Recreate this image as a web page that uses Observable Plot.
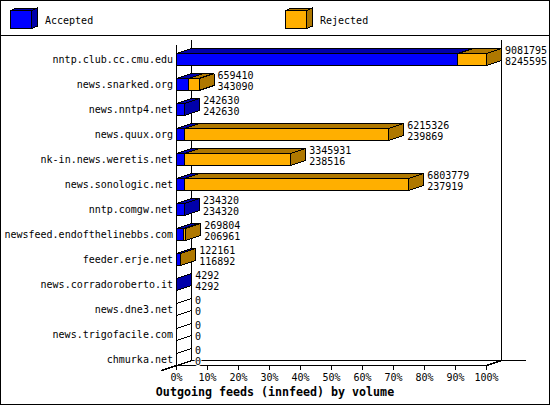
<!DOCTYPE html>
<html><head><meta charset="utf-8">
<style>html,body{margin:0;padding:0;background:#fff}svg{display:block}</style>
<script src="https://cdn.jsdelivr.net/npm/d3@7"></script>
<script src="https://cdn.jsdelivr.net/npm/@observablehq/plot@0.6"></script>
</head><body><div id="chart"></div>
<script>
const feeds = ["nntp.club.cc.cmu.edu","news.snarked.org","news.nntp4.net","news.quux.org","nk-in.news.weretis.net","news.sonologic.net","nntp.comgw.net","newsfeed.endofthelinebbs.com","feeder.erje.net","news.corradoroberto.it","news.dne3.net","news.trigofacile.com","chmurka.net"];
const totals = [9081795,659410,242630,6215326,3345931,6803779,234320,269804,122161,4292,0,0,0];
const accepted = [8245595,343090,242630,239869,238516,237919,234320,206961,116892,4292,0,0,0];
const seriesNames = ["Accepted","Rejected"];
const tickValues = [0,10,20,30,40,50,60,70,80,90,100];
const title = "Outgoing feeds (innfeed) by volume";

const BLUE="#0000ff",DBLUE="#0000aa",ORANGE="#ffaf00",DORANGE="#af7800";
const mono="'DejaVu Sans Mono',monospace";
const max=d3.max(totals);
const pct=v=>v/max*100;
// scale helpers: bar depth and half height expressed in data units
const xPx=3.1, yPx=25, x0=176, y0=59;
const invX=p=>(p-x0)/xPx, invY=p=>(p-y0)/yPx;
const depthX=15/xPx, depthY=5/yPx, half=6/yPx;

const faces=[];
function poly(group,id,pts){pts.concat([pts[0]]).forEach(([x,y])=>faces.push({group,id,x,y}));}
feeds.forEach((f,i)=>{
  const a=pct(accepted[i]), t=pct(totals[i]);
  const top=i-half, bot=i+half;
  const up=(l,r)=>[[l,top],[l+depthX,top-depthY],[r+depthX,top-depthY],[r,top]];
  poly(t===0?"none":(totals[i]>accepted[i]?"dorange":"dblue"),`s${i}`,[[t,top],[t+depthX,top-depthY],[t+depthX,bot-depthY],[t,bot]]);
  poly("dblue",`tb${i}`,up(0,a));
  if(totals[i]>accepted[i]) poly("dorange",`to${i}`,up(a,t));
  if(t>0){
    poly("orange",`fo${i}`,[[a,top],[t,top],[t,bot],[a,bot]]);
    poly("blue",`fb${i}`,[[0,top],[a,top],[a,bot],[0,bot]]);
  }
});
// legend swatches
function swatch(px,front,dark,n){
  const l=invX(px),r=invX(px+21),t=invY(10),b=invY(28),dx=6/xPx,dy=2.5/yPx;
  poly(dark,`ls${n}`,[[r,t],[r+dx,t-dy],[r+dx,b-dy],[r,b]]);
  poly(dark,`lt${n}`,[[l,t],[l+dx,t-dy],[r+dx,t-dy],[r,t]]);
  poly(front,`lf${n}`,[[l,t],[r,t],[r,b],[l,b]]);
}
swatch(10,"blue","dblue",0);
swatch(285,"orange","dorange",1);
const face=(g,fill)=>Plot.line(faces.filter(d=>d.group===g),{x:"x",y:"y",z:"id",fill,stroke:"#000",strokeWidth:1,curve:"linear"});

const rows=feeds.map((f,i)=>({i,t:totals[i],a:accepted[i],x:pct(totals[i])+depthX}));
const valueLabel=(key,dy)=>Plot.text(rows,{x:"x",y:"i",text:d=>String(d[key]),dx:3.5,dy,textAnchor:"start",fontFamily:mono,fontSize:10,fill:"#000",stroke:"#fff",strokeWidth:2});

const plot=Plot.plot({
  width:550,height:405,marginLeft:176,marginRight:64,marginBottom:40,marginTop:40,
  style:{background:"#fff",shapeRendering:"crispEdges",outline:"1px solid #000",outlineOffset:"-1px",overflow:"hidden"},
  x:{domain:[0,100],axis:null},
  y:{domain:[0,12],range:[59,359],axis:null},
  marks:[
    Plot.ruleY([invY(35)],{x1:invX(0),x2:invX(550),stroke:"#000"}),
    // back wall and floor
    Plot.ruleX([depthX,100+depthX],{y1:invY(40),y2:12+half-depthY,stroke:"#000"}),
    Plot.ruleX([0],{y1:invY(45),y2:12+half,stroke:"#000"}),
    Plot.ruleY([12+half-depthY],{x1:depthX,x2:invX(526),stroke:"#000"}),
    Plot.ruleY([12+half],{x1:0,x2:100,stroke:"#000"}),
    Plot.line([[invX(161),12+half+depthY],[depthX,12+half-depthY]],{x:d=>d[0],y:d=>d[1],stroke:"#000",curve:"linear"}),
    Plot.line([[100,12+half],[100+depthX,12+half-depthY]],{x:d=>d[0],y:d=>d[1],stroke:"#000",curve:"linear"}),
    face("none","#fff"),face("dblue",DBLUE),face("dorange",DORANGE),face("orange",ORANGE),face("blue",BLUE),
    valueLabel("t",-9),valueLabel("a",2),
    Plot.axisX({ticks:tickValues,anchor:"bottom",tickSize:5,tickPadding:3,tickFormat:d=>d+"%",label:null,fontFamily:mono,fontSize:10,color:"#000"}),
    Plot.axisY({ticks:d3.range(feeds.length),anchor:"left",tickSize:0,tickPadding:3.5,tickFormat:i=>feeds[i],label:null,fontFamily:mono,fontSize:10,color:"#000",x:0}),
    Plot.text([title],{x:invX(274.5),y:invY(392),text:d=>d,textAnchor:"middle",fontFamily:mono,fontSize:11.65,fontWeight:"bold",fill:"#000"}),
    Plot.text(seriesNames,{x:(d,i)=>invX([44.5,319.5][i]),y:invY(20),text:d=>d,textAnchor:"start",fontFamily:mono,fontSize:10,fill:"#000"})
  ]
});
document.getElementById("chart").append(plot);
</script></body></html>
